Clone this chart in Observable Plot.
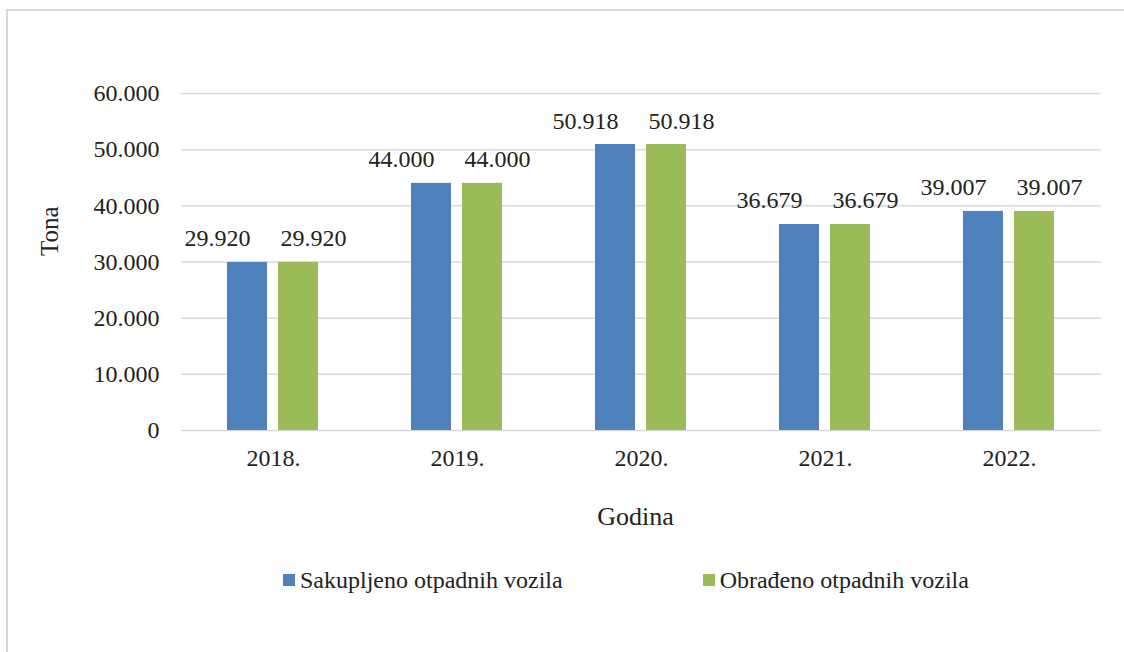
<!DOCTYPE html>
<html>
<head>
<meta charset="utf-8">
<script src="https://cdn.jsdelivr.net/npm/d3@7"></script>
<script src="https://cdn.jsdelivr.net/npm/@observablehq/plot@0.6"></script>
<style>
  html, body { margin: 0; padding: 0; background: #fff; }
  #wrap { position: relative; width: 1124px; height: 652px; overflow: hidden; font-family: "Liberation Serif", "Times New Roman", serif; color: #222; }
  #border { position: absolute; left: 6px; top: 9px; width: 1200px; height: 700px; border-left: 2px solid #d9d9d9; border-top: 2px solid #d9d9d9; }
  #chart { position: absolute; left: 0; top: 0; }
  #legend { position: absolute; left: 283px; top: 566px; height: 28px; display: flex; align-items: center; font-size: 24px; white-space: nowrap; }
  .item { display: flex; align-items: center; }
  .sw { width: 12px; height: 12px; margin-right: 5px; }
</style>
</head>
<body>
<div id="wrap">
  <div id="border"></div>
  <div id="chart"></div>
  <div id="legend"></div>
</div>
<script>
const years = ["2018.", "2019.", "2020.", "2021.", "2022."];
const collected = [29920, 44000, 50918, 36679, 39007];
const processed = [29920, 44000, 50918, 36679, 39007];
const seriesNames = ["Sakupljeno otpadnih vozila", "Obrađeno otpadnih vozila"];
const seriesColors = ["#4F81BD", "#9BBB59"];
const yTicks = [0, 10000, 20000, 30000, 40000, 50000, 60000];
const yTitle = "Tona";
const xTitle = "Godina";

const locale = d3.formatLocale({decimal: ",", thousands: ".", grouping: [3], currency: ["", ""]});
const fmt = locale.format(",");

const data = [];
years.forEach((y, i) => {
  data.push({year: y, series: seriesNames[0], value: collected[i]});
  data.push({year: y, series: seriesNames[1], value: processed[i]});
});

const chart = Plot.plot({
  width: 1124,
  height: 545,
  marginLeft: 181,
  marginRight: 23,
  marginTop: 93,
  marginBottom: 115,
  style: {fontFamily: "'Liberation Serif', 'Times New Roman', serif", fontSize: "24px", color: "#222", background: "transparent"},
  fx: {domain: years, padding: 0, axis: null},
  x: {domain: seriesNames, paddingInner: 0.2115, paddingOuter: 0.875, axis: null},
  y: {domain: [0, 60000], axis: null},
  color: {domain: seriesNames, range: seriesColors},
  marks: [
    Plot.ruleY(yTicks, {stroke: "#d9d9d9", strokeWidth: 1.5}),
    Plot.barY(data, {fx: "year", x: "series", y: "value", fill: "series"}),
    Plot.text(data.filter(d => d.series === seriesNames[0]), {fx: "year", x: "series", y: "value", text: d => fmt(d.value), lineAnchor: "bottom", dy: -16, dx: -30, fill: "#222", fontSize: 24}),
    Plot.text(data.filter(d => d.series === seriesNames[1]), {fx: "year", x: "series", y: "value", text: d => fmt(d.value), lineAnchor: "bottom", dy: -16, dx: 15, fill: "#222", fontSize: 24}),
    Plot.axisY({ticks: yTicks, tickFormat: fmt, tickSize: 0, tickPadding: 22, label: null, fontSize: 24}),
    Plot.axisFx({anchor: "bottom", tickSize: 0, tickPadding: 18, label: null, fontSize: 24}),
    Plot.text([yTitle], {facet: "super", frameAnchor: "left", rotate: -90, dx: -132, dy: -6, fontSize: 25, fill: "#222", lineAnchor: "middle"}),
    Plot.text([xTitle], {facet: "super", frameAnchor: "bottom", dx: -6, dy: 86, fontSize: 26, fill: "#222", lineAnchor: "middle"})
  ]
});
document.getElementById("chart").appendChild(chart);

const legend = document.getElementById("legend");
seriesNames.forEach((name, i) => {
  const item = document.createElement("div");
  item.className = "item";
  if (i > 0) item.style.marginLeft = "140px";
  const sw = document.createElement("span");
  sw.className = "sw";
  sw.style.background = seriesColors[i];
  const t = document.createElement("span");
  t.textContent = name;
  item.appendChild(sw);
  item.appendChild(t);
  legend.appendChild(item);
});
</script>
</body>
</html>
